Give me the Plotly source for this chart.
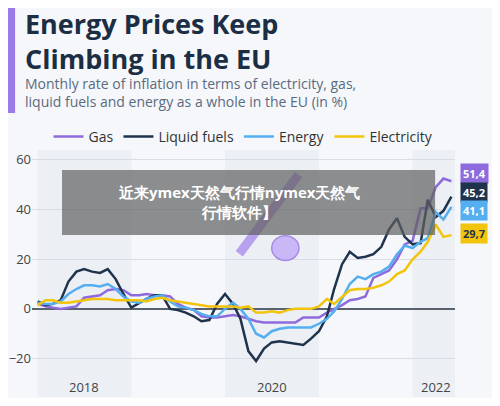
import plotly.graph_objects as go
import pandas as pd

months = pd.date_range("2018-01-01", periods=54, freq="MS")
gas = [2,1,0.5,0,0.5,1,4.5,5,5.5,7.5,8,7.5,
       5.5,5.5,6,5.5,5.5,5,2,0.5,-0.5,-3,-3.5,-3.5,
       -3,-2.5,-3,-4,-5,-5.5,-5.5,-5.5,-5.5,-5.5,-3.5,-3.5,
       -3.5,-1.5,0,1.5,3.5,4,5,12.5,14,15.5,20,26,
       27.5,40.5,40.5,49,52.5,51.4]
liquid = [3,1.5,2,3.5,11,15,16,15,14.5,16,12,6,
          0.5,2.5,4,5.5,5.5,0,-0.5,-1.5,-3,-5,-4.5,2,
          6,2,-4,-17,-21,-16,-13.5,-13,-13.5,-14,-14.5,-12,
          -9,-3,8,18,23,20.5,21,22,25,32,36.5,29,
          26,26.5,44,37,39.5,45.2]
energy = [2.5,2,2,3,6,8,9.5,9.5,9,10,8,5,
          3,2.5,4,5,5.5,3,1,0.5,-0.5,-2,-3,-3,
          0,2.5,0,-4,-10,-11.5,-9,-8,-7.5,-7.5,-7.5,-7.5,
          -6,-4,-1,4,10,13,12,14,15,17,22,25.5,
          24.5,27,28.5,39,36,41.1]
elec = [1.5,3.5,3.5,2.5,2.5,3,3.5,4,4,4,3.5,3.5,
        3.5,3.5,3,4,4.5,3.5,3,2.5,2,1.5,1,1,
        1,1,0.5,1,-1.5,-1.5,-1,-1.5,-0.5,0,0,0,
        1,4,2,5,7.5,8,8,8.5,9.5,11,14,15.5,
        20,23,27,34,29,29.7]
names = ["Gas", "Liquid fuels", "Energy", "Electricity"]
colors = ["#8e6bdc", "#1f344c", "#55aef0", "#f2c40c"]
series = [gas, liquid, energy, elec]
labels = ["51,4", "45,2", "41,1", "29,7"]
label_pos = [54.7, 46.9, 39.6, 30.2]
year_labels = ["2018", "2020", "2022"]
year_pos = ["2018-07-01", "2020-07-01", "2022-04-01"]

fig = go.Figure()
for n, c, s in zip(names, colors, series):
    fig.add_trace(go.Scatter(x=months, y=s, name=n, mode="lines",
                             line=dict(color=c, width=2.5)))
shapes = []
for y0, y1 in [("2018-01-01", "2019-01-01"), ("2020-01-01", "2021-01-01"), ("2022-01-01", "2022-07-01")]:
    shapes.append(dict(type="rect", xref="x", yref="paper", x0=y0, x1=y1, y0=0, y1=1,
                       fillcolor="#e6ebf2", opacity=0.6, line_width=0, layer="below"))
shapes.append(dict(type="rect", xref="paper", yref="paper", x0=-0.066, x1=-0.04, y0=1.15, y1=1.58,
                   fillcolor="#9b7be8", line_width=0))
shapes.append(dict(type="line", xref="paper", yref="paper", x0=0.49, y0=0.58, x1=0.63, y1=0.9,
                   line=dict(color="rgba(170,140,235,0.8)", width=9)))
shapes.append(dict(type="circle", xref="x", yref="y", x0="2020-07-01", x1="2020-10-15", y0=19.5, y1=29.5,
                   fillcolor="#c9b8f5", line=dict(color="#a58be8", width=1.5)))
shapes.append(dict(type="rect", xref="paper", yref="paper", x0=0.071, x1=0.953, y0=0.656, y1=0.919,
                   fillcolor="rgba(95,95,95,0.7)", line_width=0))
annotations = [
    dict(text="<b>Energy Prices Keep<br>Climbing in the EU</b>", xref="paper", yref="paper",
         x=-0.022, y=1.595, xanchor="left", yanchor="top", align="left", showarrow=False,
         font=dict(family="Open Sans", size=27, color="#1c2e44")),
    dict(text="Monthly rate of inflation in terms of electricity, gas,<br>liquid fuels and energy as a whole in the EU (in %)",
         xref="paper", yref="paper", x=-0.022, y=1.315, xanchor="left", yanchor="top", align="left",
         showarrow=False, font=dict(family="Open Sans", size=14, color="#5a6b80")),
    dict(text="<b>近来ymex天然气行情nymex天然气<br>行情软件】</b>", xref="paper", yref="paper",
         x=0.49, y=0.79, xanchor="center", yanchor="middle", showarrow=False,
         font=dict(size=15, color="white")),
]
for t, c, yv in zip(labels, colors, label_pos):
    annotations.append(dict(text="<b>" + t + "</b>", xref="paper", yref="y", x=1.012, y=yv,
                            xanchor="left", showarrow=False, bgcolor=c, borderpad=2,
                            font=dict(size=11, color="#1f344c" if c == "#f2c40c" else "white")))
for t, xv in zip(year_labels, year_pos):
    annotations.append(dict(text=t, x=xv, y=-31.4, xref="x", yref="y", showarrow=False,
                            font=dict(family="Open Sans", size=13, color="#444")))
fig.update_layout(
    width=484, height=390, autosize=False, paper_bgcolor="#f5f7fa", plot_bgcolor="#f5f7fa",
    margin=dict(l=24, r=37, t=142, b=1),
    font=dict(family="Open Sans, sans-serif", color="#333"),
    shapes=shapes, annotations=annotations, showlegend=True,
    legend=dict(orientation="h", x=0.5, xanchor="center", y=1.053, yanchor="middle",
                font=dict(size=14, color="#333"), bgcolor="rgba(0,0,0,0)", itemwidth=30),
    xaxis=dict(range=["2017-12-10", "2022-06-15"], showgrid=False, automargin=False,
               showticklabels=False, ticks="", zeroline=False),
    yaxis=dict(range=[-35.5, 64], tickvals=[-20, 0, 20, 40, 60], gridcolor="#d8dde5", automargin=False,
               tickfont=dict(size=13, color="#444"), zeroline=True, zerolinecolor="#5a6270", zerolinewidth=1.5),
)
fig.write_html("out.html")
